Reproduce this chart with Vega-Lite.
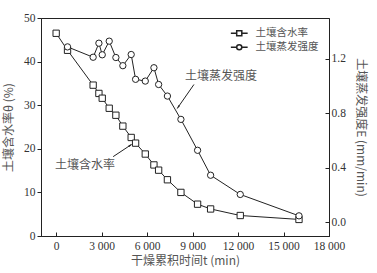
{
  "$schema": "https://vega.github.io/schema/vega-lite/v6.json",
  "width": 288,
  "height": 218,
  "autosize": "none",
  "padding": {"left": 41, "top": 18, "right": 48, "bottom": 37},
  "background": "white",
  "config": {
    "font": "Liberation Serif, Noto Sans CJK SC",
    "view": {"stroke": "#222", "strokeWidth": 1},
    "axis": {
      "grid": false,
      "domainColor": "#222",
      "tickColor": "#222",
      "labelColor": "#333",
      "labelFont": "Liberation Serif",
      "labelFontSize": 11.5,
      "titleColor": "#555",
      "titleFont": "Noto Sans CJK SC",
      "titleFontSize": 12,
      "titleFontWeight": "normal"
    },
    "legend": {
      "labelFont": "Noto Sans CJK SC",
      "labelFontSize": 10.5,
      "labelColor": "#555"
    }
  },
  "datasets": {
    "series": [
      {"t": 0, "v": 46.5, "s": "土壤含水率"},
      {"t": 750, "v": 42.6, "s": "土壤含水率"},
      {"t": 2440, "v": 34.6, "s": "土壤含水率"},
      {"t": 2820, "v": 32.7, "s": "土壤含水率"},
      {"t": 3040, "v": 31.6, "s": "土壤含水率"},
      {"t": 3500, "v": 29.3, "s": "土壤含水率"},
      {"t": 3940, "v": 27.7, "s": "土壤含水率"},
      {"t": 4400, "v": 25.2, "s": "土壤含水率"},
      {"t": 4950, "v": 22.6, "s": "土壤含水率"},
      {"t": 5240, "v": 21.3, "s": "土壤含水率"},
      {"t": 5880, "v": 18.8, "s": "土壤含水率"},
      {"t": 6450, "v": 16.3, "s": "土壤含水率"},
      {"t": 6760, "v": 15.1, "s": "土壤含水率"},
      {"t": 7340, "v": 12.9, "s": "土壤含水率"},
      {"t": 8230, "v": 10.0, "s": "土壤含水率"},
      {"t": 9330, "v": 7.3, "s": "土壤含水率"},
      {"t": 10190, "v": 6.2, "s": "土壤含水率"},
      {"t": 12145, "v": 4.7, "s": "土壤含水率"},
      {"t": 16020, "v": 3.8, "s": "土壤含水率"},
      {"t": 750, "v": 1.288, "s": "土壤蒸发强度"},
      {"t": 2440, "v": 1.212, "s": "土壤蒸发强度"},
      {"t": 2820, "v": 1.315, "s": "土壤蒸发强度"},
      {"t": 3040, "v": 1.23, "s": "土壤蒸发强度"},
      {"t": 3500, "v": 1.33, "s": "土壤蒸发强度"},
      {"t": 3940, "v": 1.21, "s": "土壤蒸发强度"},
      {"t": 4400, "v": 1.15, "s": "土壤蒸发强度"},
      {"t": 4950, "v": 1.232, "s": "土壤蒸发强度"},
      {"t": 5240, "v": 1.05, "s": "土壤蒸发强度"},
      {"t": 5880, "v": 1.037, "s": "土壤蒸发强度"},
      {"t": 6450, "v": 1.135, "s": "土壤蒸发强度"},
      {"t": 6760, "v": 1.012, "s": "土壤蒸发强度"},
      {"t": 7340, "v": 0.927, "s": "土壤蒸发强度"},
      {"t": 8230, "v": 0.756, "s": "土壤蒸发强度"},
      {"t": 9330, "v": 0.529, "s": "土壤蒸发强度"},
      {"t": 10190, "v": 0.346, "s": "土壤蒸发强度"},
      {"t": 12145, "v": 0.205, "s": "土壤蒸发强度"},
      {"t": 16020, "v": 0.048, "s": "土壤蒸发强度"}
    ],
    "annot": [
      {"s": "土壤含水率", "tx": 1895, "ty": 16.3, "x1": 3760, "y1": 18.2, "x2": 4930, "y2": 20.9, "ang": 56.5},
      {"s": "土壤蒸发强度", "tx": 10870, "ty": 1.071, "x1": 9090, "y1": 1.012, "x2": 8030, "y2": 0.843, "ang": 214.8}
    ]
  },
  "encoding": {
    "x": {
      "field": "t",
      "type": "quantitative",
      "scale": {"domain": [-1000, 18000], "nice": false, "zero": false},
      "axis": {
        "title": "干燥累积时间t (min)",
        "values": [0, 3000, 6000, 9000, 12000, 15000, 18000],
        "labelExpr": "replace(format(datum.value, ','), ',', ' ')",
        "tickSize": -4,
        "labelPadding": 8,
        "titlePadding": 4,
        "labelFlush": false
      }
    }
  },
  "layer": [
    {
      "layer": [
        {
          "data": {"name": "series"},
          "transform": [{"filter": "datum.s === '土壤含水率'"}],
          "mark": {"type": "line", "color": "#222", "strokeWidth": 1},
          "encoding": {
            "y": {
              "field": "v",
              "type": "quantitative",
              "scale": {"domain": [0, 50], "nice": false},
              "axis": {
                "orient": "left",
                "title": "土壤含水率θ (%)",
                "values": [0, 5, 10, 15, 20, 25, 30, 35, 40, 45, 50],
                "tickSize": 4,
                "labelPadding": 2,
                "titlePadding": 8
              }
            }
          }
        },
        {
          "data": {"name": "series"},
          "transform": [{"filter": "datum.s === '土壤含水率'"}],
          "mark": {"type": "point", "shape": "square", "filled": true, "fill": "white", "stroke": "#222", "strokeWidth": 1, "size": 40, "opacity": 1},
          "encoding": {
            "y": {"field": "v", "type": "quantitative"}
          }
        },
        {
          "data": {"name": "series"},
          "mark": {"type": "point", "filled": true, "fill": "white", "stroke": "#222", "strokeWidth": 1, "size": 36, "opacity": 0},
          "encoding": {
            "y": {"field": "v", "type": "quantitative"},
            "shape": {
              "field": "s",
              "type": "nominal",
              "scale": {
                "domain": ["土壤含水率", "土壤蒸发强度"],
                "range": [
                  "M-2.8,0H-0.85M0.85,0H2.8M-0.85,-0.85H0.85V0.85H-0.85Z",
                  "M-2.8,0H-0.85M0.85,0H2.8M0.85,0A0.85,0.85,0,1,1,-0.85,0A0.85,0.85,0,1,1,0.85,0Z"
                ]
              },
              "legend": {
                "title": null,
                "orient": "top-right",
                "offset": 10,
                "padding": 0,
                "rowPadding": 2,
                "symbolSize": 36,
                "labelOffset": 11,
                "encode": {
                  "symbols": {
                    "fill": {"value": "white"},
                    "stroke": {"value": "#222"},
                    "strokeWidth": {"value": 1},
                    "opacity": {"value": 1}
                  }
                }
              }
            }
          }
        },
        {
          "data": {"name": "annot"},
          "transform": [{"filter": "datum.s === '土壤含水率'"}],
          "mark": {"type": "text", "font": "Noto Sans CJK SC", "fontSize": 12, "color": "#555", "align": "center", "baseline": "middle"},
          "encoding": {
            "x": {"field": "tx", "type": "quantitative"},
            "y": {"field": "ty", "type": "quantitative"},
            "text": {"field": "s"}
          }
        },
        {
          "data": {"name": "annot"},
          "transform": [{"filter": "datum.s === '土壤含水率'"}],
          "mark": {"type": "rule", "color": "#222", "strokeWidth": 1},
          "encoding": {
            "x": {"field": "x1", "type": "quantitative"},
            "y": {"field": "y1", "type": "quantitative"},
            "x2": {"field": "x2"},
            "y2": {"field": "y2"}
          }
        },
        {
          "data": {"name": "annot"},
          "transform": [{"filter": "datum.s === '土壤含水率'"}],
          "mark": {"type": "point", "shape": "M0,-1L-0.35,1L0.35,1Z", "filled": true, "color": "#222", "size": 25, "opacity": 1},
          "encoding": {
            "x": {"field": "x2", "type": "quantitative"},
            "y": {"field": "y2", "type": "quantitative"},
            "angle": {"field": "ang", "type": "quantitative", "scale": null}
          }
        }
      ]
    },
    {
      "layer": [
        {
          "data": {"name": "series"},
          "transform": [{"filter": "datum.s === '土壤蒸发强度'"}],
          "mark": {"type": "line", "color": "#222", "strokeWidth": 1},
          "encoding": {
            "y": {
              "field": "v",
              "type": "quantitative",
              "scale": {"domain": [-0.1, 1.5], "nice": false, "zero": false},
              "axis": {
                "orient": "right",
                "title": "土壤蒸发强度E (mm/min)",
                "values": [0, 0.2, 0.4, 0.6, 0.8, 1.0, 1.2, 1.4],
                "format": ".1f",
                "tickSize": -4,
                "labelPadding": 6,
                "titlePadding": 8
              }
            }
          }
        },
        {
          "data": {"name": "series"},
          "transform": [{"filter": "datum.s === '土壤蒸发强度'"}],
          "mark": {"type": "point", "shape": "circle", "filled": true, "fill": "white", "stroke": "#222", "strokeWidth": 1, "size": 40, "opacity": 1},
          "encoding": {
            "y": {"field": "v", "type": "quantitative"}
          }
        },
        {
          "data": {"name": "annot"},
          "transform": [{"filter": "datum.s === '土壤蒸发强度'"}],
          "mark": {"type": "text", "font": "Noto Sans CJK SC", "fontSize": 12, "color": "#555", "align": "center", "baseline": "middle"},
          "encoding": {
            "x": {"field": "tx", "type": "quantitative"},
            "y": {"field": "ty", "type": "quantitative"},
            "text": {"field": "s"}
          }
        },
        {
          "data": {"name": "annot"},
          "transform": [{"filter": "datum.s === '土壤蒸发强度'"}],
          "mark": {"type": "rule", "color": "#222", "strokeWidth": 1},
          "encoding": {
            "x": {"field": "x1", "type": "quantitative"},
            "y": {"field": "y1", "type": "quantitative"},
            "x2": {"field": "x2"},
            "y2": {"field": "y2"}
          }
        },
        {
          "data": {"name": "annot"},
          "transform": [{"filter": "datum.s === '土壤蒸发强度'"}],
          "mark": {"type": "point", "shape": "M0,-1L-0.35,1L0.35,1Z", "filled": true, "color": "#222", "size": 25, "opacity": 1},
          "encoding": {
            "x": {"field": "x2", "type": "quantitative"},
            "y": {"field": "y2", "type": "quantitative"},
            "angle": {"field": "ang", "type": "quantitative", "scale": null}
          }
        }
      ]
    }
  ],
  "resolve": {"scale": {"y": "independent"}}
}
